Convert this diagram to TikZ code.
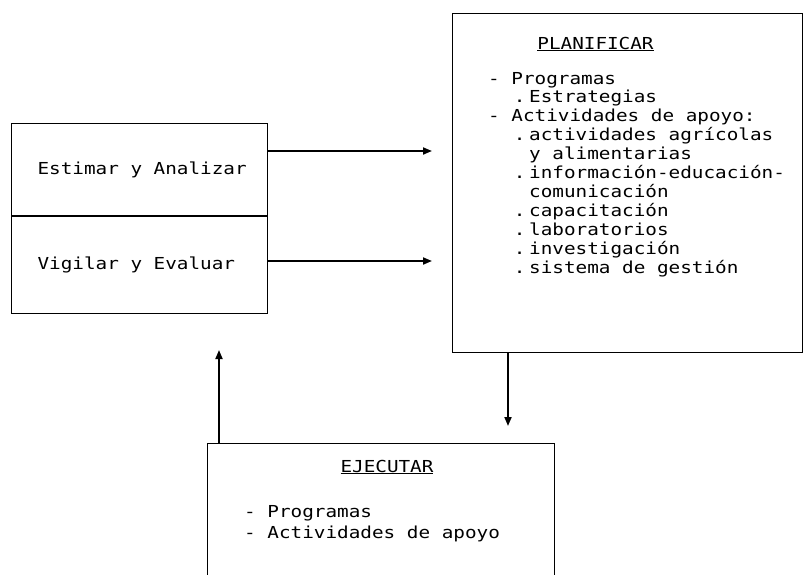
\documentclass[tikz,border=0pt]{standalone}
\usepackage{fontspec}
\newfontfamily\typefont[FakeStretch=1.17]{DejaVu Sans Mono}
\usetikzlibrary{arrows.meta, positioning, calc}

% indented list lines
\newcommand{\dotline}[1]{\makebox[41pt][r]{\makebox[19pt]{.}}#1}
\newcommand{\contline}[1]{\hspace*{41pt}#1}

\begin{document}
\begin{tikzpicture}[x=1pt, y=-1pt, >={Triangle[length=9pt,width=7pt]},
  every node/.style={font=\typefont\fontsize{16.5}{18.9}\selectfont},
  box/.style={draw, line width=0.9pt, inner sep=0pt},
  flow/.style={->, line width=1.8pt}]
  \useasboundingbox (0,0) rectangle (803,574);

  % left boxes
  \node[box, minimum width=256pt, minimum height=92pt, anchor=north west] (estimar) at (11,123) {};
  \node[box, minimum width=256pt, minimum height=97pt, below=0pt of estimar] (vigilar) {};
  \node[right=23pt of estimar.west] (estimartxt) {Estimar y Analizar};
  \node[right=23pt of vigilar.west] (vigilartxt) {Vigilar y Evaluar};

  % planificar (base = last line)
  \node[box, minimum width=350pt, minimum height=339pt, anchor=north west] (plan) at (452,13) {};
  \node[anchor=base] (plantitle) at (595.5,49) {\underline{PLANIFICAR}};
  \node[anchor=base west, align=left, inner sep=0pt] (planlist) at (488,273) {%
    - Programas\\
    \dotline{Estrategias}\\
    - Actividades de apoyo:\\
    \dotline{actividades agrícolas}\\
    \contline{y alimentarias}\\
    \dotline{información-educación-}\\
    \contline{comunicación}\\
    \dotline{capacitación}\\
    \dotline{laboratorios}\\
    \dotline{investigación}\\
    \dotline{sistema de gestión}};

  % ejecutar
  \node[box, minimum width=347pt, minimum height=200pt, anchor=north west] (ejec) at (207,443) {};
  \node[anchor=base] (ejectitle) at (387,472) {\underline{EJECUTAR}};
  \node[anchor=base west, align=left, inner sep=0pt, font=\typefont\fontsize{16.5}{21}\selectfont] (ejeclist) at (244,538) {%
    - Programas\\
    - Actividades de apoyo};

  % arrows
  \coordinate (a1) at (432,151);
  \coordinate (a2) at (432,261);
  \coordinate (a3) at (508,426);
  \coordinate (a4) at (219,350);
  \draw[flow] (estimar.east |- a1) -- (a1);
  \draw[flow] (vigilar.east |- a2) -- (a2);
  \draw[flow] (a3 |- plan.south) -- (a3);
  \draw[flow] (a4 |- ejec.north) -- (a4);
\end{tikzpicture}
\end{document}
